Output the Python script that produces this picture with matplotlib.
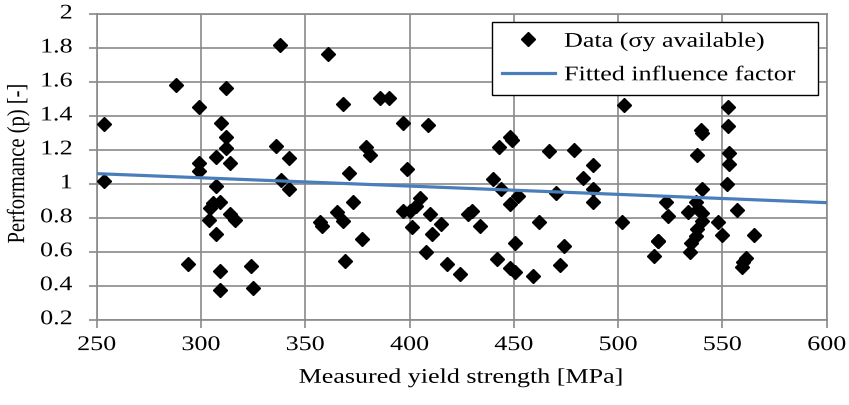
import numpy as np
import matplotlib.pyplot as plt
from matplotlib.patheffects import AbstractPathEffect
from matplotlib.transforms import Affine2D

# measured yield strength [MPa] and performance p [-]
yield_strength = [
    253.5, 253.5, 288, 294, 299, 299, 299, 307, 307,
    304.5, 306, 309.3, 303.7, 314, 316.5, 307,
    312, 309.8, 312, 312, 314, 309, 309, 324, 325,
    336, 338, 342, 338.6, 342, 361, 368, 371, 373,
    357, 358, 365, 368, 377, 369, 379, 381, 385.6, 390,
    397, 409, 399, 397, 400, 403, 405, 401, 410, 415,
    411, 408, 418, 424, 428, 430, 434, 440, 444, 448,
    452, 443, 448, 449, 450.6, 442, 448, 450.6, 459, 462,
    467, 470, 474, 472, 479, 488, 483, 488, 488, 503,
    502, 519, 517, 523, 524, 519,
    539.6, 540.4, 538, 540, 537.5, 533.5, 538.3, 540.4, 540,
    538, 537.5, 535, 534.6, 552.7, 552.7, 553, 553, 552,
    557, 548, 550, 565, 560, 561.5, 559.6,
]
performance = [
    1.355, 1.015, 1.58, 0.53, 1.45, 1.12, 1.075, 1.16, 0.985,
    0.855, 0.887, 0.891, 0.789, 0.822, 0.789, 0.702,
    1.565, 1.36, 1.274, 1.21, 1.12, 0.488, 0.377, 0.518, 0.388,
    1.225, 1.815, 1.152, 1.024, 0.969, 1.764, 1.47, 1.062, 0.891,
    0.773, 0.753, 0.832, 0.783, 0.675, 0.547, 1.215, 1.17, 1.505, 1.503,
    1.356, 1.348, 1.087, 0.838, 0.838, 0.871, 0.916, 0.744, 0.822, 0.763,
    0.704, 0.6, 0.528, 0.469, 0.822, 0.842, 0.75, 1.028, 0.969, 0.881,
    0.93, 1.219, 1.274, 1.26, 0.65, 0.557, 0.502, 0.479, 0.459, 0.777,
    1.195, 0.944, 0.632, 0.522, 1.199, 1.113, 1.034, 0.969, 0.895, 1.464,
    0.773, 0.661, 0.577, 0.891, 0.808, 0.665,
    1.318, 1.3, 1.172, 0.969, 0.895, 0.836, 0.852, 0.828, 0.783,
    0.734, 0.695, 0.65, 0.596, 1.454, 1.338, 1.179, 1.115, 0.999,
    0.848, 0.773, 0.698, 0.698, 0.537, 0.561, 0.508,
]

# linear influence factor p = a + b * fy
fit_intercept = 1.182
fit_slope = -0.000488

x_ticks = [250, 300, 350, 400, 450, 500, 550, 600]
y_ticks = [0.2, 0.4, 0.6, 0.8, 1.0, 1.2, 1.4, 1.6, 1.8, 2.0]
y_tick_labels = ['0.2', '0.4', '0.6', '0.8', '1', '1.2', '1.4', '1.6', '1.8', '2']


class Widen(AbstractPathEffect):
    """Draw text glyphs stretched horizontally about one edge or the centre."""

    def __init__(self, factor=1.25, anchor='center'):
        super().__init__()
        self.factor = factor
        self.anchor = anchor

    def draw_path(self, renderer, gc, tpath, affine, rgbFace=None):
        bb = tpath.get_extents(affine)
        cx = {'left': bb.x0, 'center': (bb.x0 + bb.x1) / 2, 'right': bb.x1}[self.anchor]
        stretch = Affine2D().translate(-cx, 0).scale(self.factor, 1).translate(cx, 0)
        renderer.draw_path(gc, tpath, affine + stretch, rgbFace)


plt.rcParams['font.family'] = ['Liberation Serif', 'DejaVu Serif']
plt.rcParams['font.size'] = 15

W, H = 849, 406
fig = plt.figure(figsize=(W / 100, H / 100), dpi=100)
ax = fig.add_axes([96.7 / W, 1 - 320.7 / H, 730 / W, 305.7 / H])

grid_color = '#8a8a8a'
fit_color = '#4a7ebb'

ax.plot(yield_strength, performance, 'D', color='black', markersize=7,
        label='Data (σy available)', zorder=3)
fit_x = np.array([250, 600])
ax.plot(fit_x, fit_intercept + fit_slope * fit_x, color=fit_color, lw=2.3,
        label='Fitted influence factor', zorder=4)

ax.set_xlim(250, 600)
ax.set_ylim(0.2, 2.0)
ax.set_xticks(x_ticks, [str(t) for t in x_ticks], path_effects=[Widen(1.25, 'center')])
ax.set_yticks(y_ticks, y_tick_labels, va='center', path_effects=[Widen(1.25, 'right')])
ax.grid(True, color=grid_color, lw=1.2)
ax.set_axisbelow(True)
for s in ax.spines.values():
    s.set_color(grid_color)
    s.set_linewidth(1.2)
ax.tick_params(axis='both', color=grid_color, width=1.2, length=5.5)
ax.tick_params(axis='x', pad=6.3)
ax.tick_params(axis='y', pad=12)

ax.set_xlabel('Measured yield strength [MPa]', path_effects=[Widen(1.25, 'center')])
ax.xaxis.set_label_coords(0.5, -0.1606)
ax.set_ylabel('Performance (p) [-]', fontsize=14.8, path_effects=[Widen(1.2, 'center')])
ax.yaxis.set_label_coords(-0.094, 0.51)

leg = ax.legend(loc='upper left', bbox_to_anchor=(0.5411, 0.7, 0.4466, 0.2738),
                mode='expand', borderaxespad=0, frameon=True, fancybox=False,
                edgecolor='black', framealpha=1, borderpad=0.48, labelspacing=0.67,
                handlelength=2.55, handletextpad=0.45)
leg.get_frame().set_linewidth(1.0)
for txt in leg.get_texts():
    txt.set_path_effects([Widen(1.25, 'left')])

fig.savefig('out.png', dpi=100)
